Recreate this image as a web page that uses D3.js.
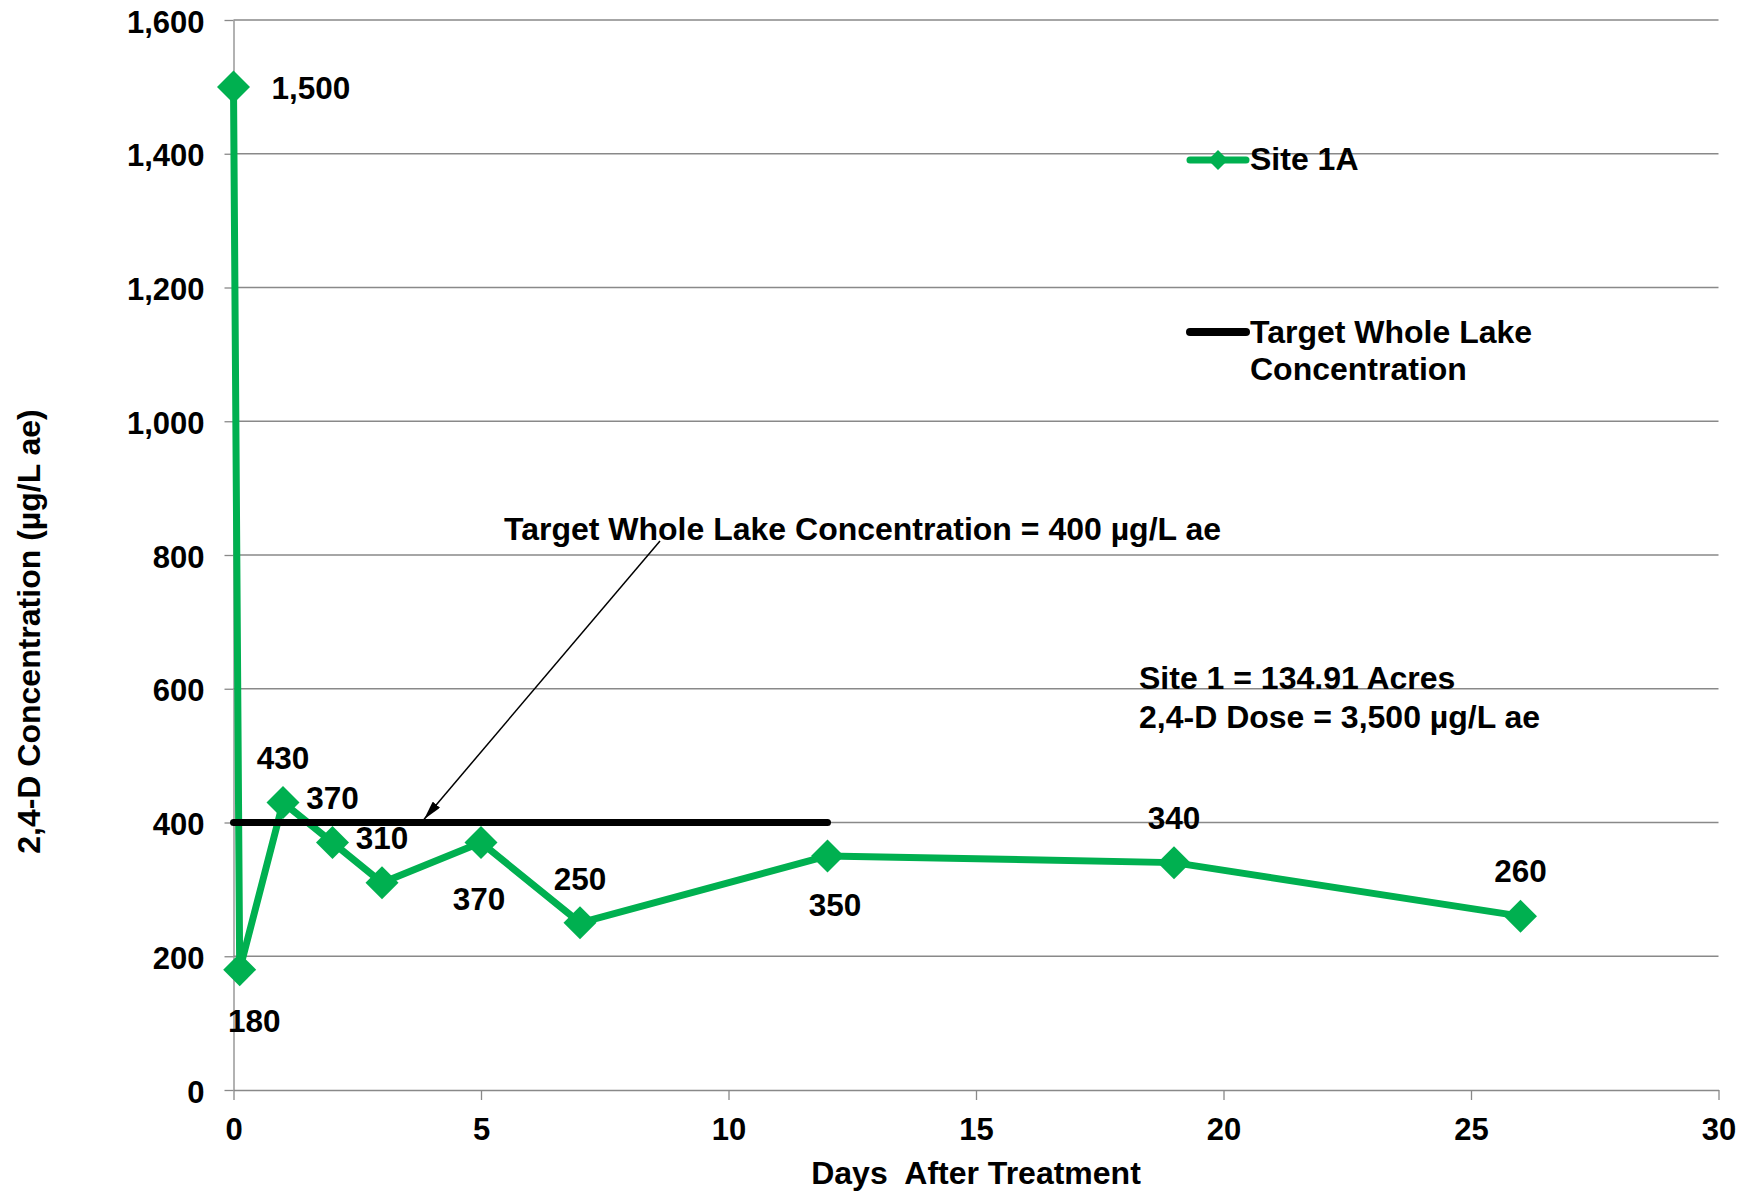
<!DOCTYPE html>
<html>
<head>
<meta charset="utf-8">
<script src="https://cdn.jsdelivr.net/npm/d3@7"></script>
<style>
  html, body { margin: 0; padding: 0; background: #fff; }
  svg { display: block; }
  text { font-family: "Liberation Sans", Arial, sans-serif; font-weight: bold; fill: #000; }
</style>
</head>
<body>
<script>
// ---- data ----
const days = [0, 0.125, 1, 2, 3, 5, 7, 12, 19, 26];
const concentration = [1500, 180, 430, 370, 310, 370, 250, 350, 340, 260];
const targetDays = [0, 12];
const targetConcentration = [400, 400];
const yTickValues = [0, 200, 400, 600, 800, 1000, 1200, 1400, 1600];
const xTickValues = [0, 5, 10, 15, 20, 25, 30];
const seriesName = "Site 1A";
const targetName = ["Target Whole Lake", "Concentration"];
const annotationText = "Target Whole Lake Concentration = 400 \u00b5g/L ae";
const siteNotes = ["Site 1 = 134.91 Acres", "2,4-D Dose = 3,500 \u00b5g/L ae"];
const xTitle = "Days  After Treatment";
const yTitle = "2,4-D Concentration (\u00b5g/L ae)";

// ---- label placement (layout, not data) ----
const labelDx = [38, 14.5, 0, 0, 0, -2, 0, 7.5, 0, 0];
const labelDy = [1, 51, -44.5, -44.5, -44.5, 56.5, -44.5, 49, -44.5, -45.5];

const W = 1752, H = 1193;
const GREEN = "#00B050", GRID = "#898989";

const svg = d3.select("body").append("svg").attr("width", W).attr("height", H);

const x = d3.scaleLinear().domain([0, 30]).range([233.5, 1718.5]);
const y = d3.scaleLinear().domain([0, 1600]).range([1090, 20]);

function capText(g, px, cy, str, size, anchor) {
  return g.append("text")
    .attr("x", px).attr("y", cy + 0.358 * size)
    .attr("font-size", size)
    .attr("text-anchor", anchor || "start")
    .attr("xml:space", "preserve")
    .style("white-space", "pre")
    .text(str);
}

// gridlines
svg.append("g").selectAll("line")
  .data(yTickValues.filter(d => d > 0))
  .join("line")
  .attr("x1", x(0)).attr("x2", x(30))
  .attr("y1", d => y(d)).attr("y2", d => y(d))
  .attr("stroke", GRID).attr("stroke-width", 1.3);

// axes
const yAxis = svg.append("g").attr("transform", `translate(${x(0)},0)`)
  .call(d3.axisLeft(y).tickValues(yTickValues).tickSize(9).tickSizeOuter(0).tickPadding(20).tickFormat(d3.format(",")));
const xAxis = svg.append("g").attr("transform", `translate(0,${y(0)})`)
  .call(d3.axisBottom(x).tickValues(xTickValues).tickSize(10).tickSizeOuter(0).tickFormat(d3.format("d")));
[yAxis, xAxis].forEach(a => {
  a.select(".domain").attr("stroke", GRID).attr("stroke-width", 1.3);
  a.selectAll(".tick line").attr("stroke", GRID).attr("stroke-width", 1.3);
  a.selectAll(".tick text").attr("font-size", 31).attr("font-family", null).attr("fill", "#000");
});
yAxis.selectAll(".tick text").attr("dy", 12);
xAxis.selectAll(".tick text").attr("dy", null).attr("y", 1140 - y(0));

// series
const pts = days.map((d, i) => ({ d, v: concentration[i] }));
const line = d3.line().x(p => x(p.d)).y(p => y(p.v));
svg.append("path").datum(pts)
  .attr("d", line).attr("fill", "none")
  .attr("stroke", GREEN).attr("stroke-width", 7).attr("stroke-linejoin", "round");

const diamond = (hw, hh) => `M0,${-hh}L${hw},0L0,${hh}L${-hw},0Z`;
svg.append("g").selectAll("path")
  .data(pts).join("path")
  .attr("transform", p => `translate(${x(p.d)},${y(p.v)})`)
  .attr("d", diamond(16.5, 16.5)).attr("fill", GREEN);

// target line
const tpts = targetDays.map((d, i) => ({ d, v: targetConcentration[i] }));
svg.append("path").datum(tpts)
  .attr("d", line).attr("fill", "none")
  .attr("stroke", "#000").attr("stroke-width", 7).attr("stroke-linecap", "round");

// data labels
const fmt = d3.format(",");
pts.forEach((p, i) => {
  capText(svg, x(p.d) + labelDx[i], y(p.v) + labelDy[i], fmt(p.v), 31.5, i === 0 ? "start" : "middle");
});

// annotation arrow
svg.append("defs").append("marker")
  .attr("id", "arrow").attr("viewBox", "0 0 20 10")
  .attr("refX", 20).attr("refY", 5)
  .attr("markerWidth", 19).attr("markerHeight", 9.5)
  .attr("markerUnits", "userSpaceOnUse").attr("orient", "auto")
  .append("path").attr("d", "M0,0L20,5L0,10Z").attr("fill", "#000");
const arrowFrom = { d: 8.616, v: 821 }, arrowTo = { d: 3.85, v: 405 };
svg.append("line")
  .attr("x1", x(arrowFrom.d)).attr("y1", y(arrowFrom.v))
  .attr("x2", x(arrowTo.d)).attr("y2", y(arrowTo.v))
  .attr("stroke", "#000").attr("stroke-width", 1.5)
  .attr("marker-end", "url(#arrow)");
capText(svg, 504, 528.5, annotationText, 32, "start");

// site notes
capText(svg, 1139, 677.5, siteNotes[0], 32, "start");
capText(svg, 1139, 716.5, siteNotes[1], 32, "start");

// legend
const lg = svg.append("g");
lg.append("line").attr("x1", 1190).attr("x2", 1246).attr("y1", 160).attr("y2", 160)
  .attr("stroke", GREEN).attr("stroke-width", 7).attr("stroke-linecap", "round");
lg.append("path").attr("transform", "translate(1218,160)").attr("d", diamond(10, 10)).attr("fill", GREEN);
capText(lg, 1250, 158.5, seriesName, 32, "start");
lg.append("line").attr("x1", 1190).attr("x2", 1246).attr("y1", 332).attr("y2", 332)
  .attr("stroke", "#000").attr("stroke-width", 8).attr("stroke-linecap", "round");
capText(lg, 1250, 332, targetName[0], 32, "start");
capText(lg, 1250, 368.5, targetName[1], 32, "start");

// axis titles
capText(svg, (x(0) + x(30)) / 2, 1173, xTitle, 32, "middle");
svg.append("text")
  .attr("transform", "translate(39.5,631.5) rotate(-90)")
  .attr("font-size", 32).attr("text-anchor", "middle")
  .text(yTitle);
</script>
</body>
</html>
